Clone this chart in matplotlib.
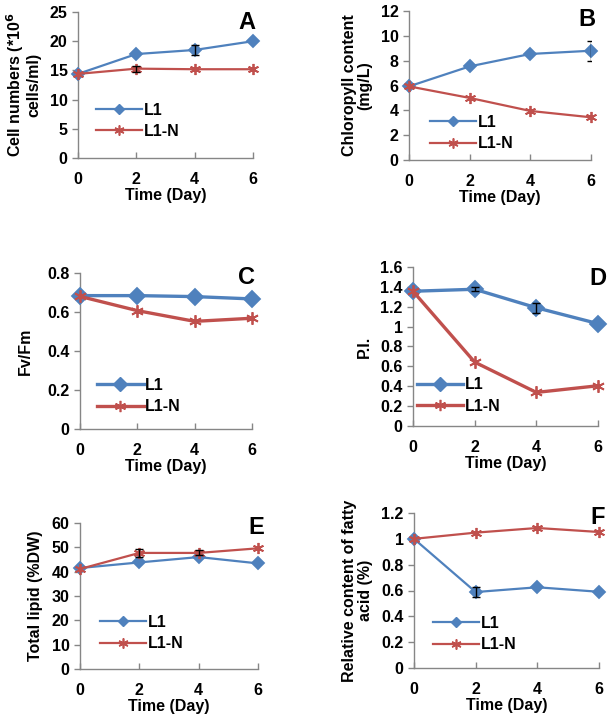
import numpy as np
import matplotlib
matplotlib.use('Agg')
import matplotlib.pyplot as plt
from matplotlib.lines import Line2D

plt.rcParams['font.family'] = ['Liberation Sans', 'DejaVu Sans']
plt.rcParams['font.weight'] = 'bold'

BLUE = '#4F81BD'
RED = '#C0504D'
AXIS_GRAY = '#868686'

days = [0, 2, 4, 6]

# panel data: L1, L1-N, error bars (0 = too small to see)
a_l1 = [14.4, 17.8, 18.5, 20.0]
a_l1_err = [0, 0, 0.9, 0]
a_l1n = [14.4, 15.3, 15.2, 15.2]
a_l1n_err = [0, 0.5, 0, 0]

b_l1 = [5.93, 7.54, 8.54, 8.8]
b_l1_err = [0, 0, 0, 0.8]
b_l1n = [5.93, 5.0, 3.95, 3.44]
b_l1n_err = [0, 0, 0, 0]

c_l1 = [0.684, 0.684, 0.679, 0.667]
c_l1_err = [0, 0, 0, 0]
c_l1n = [0.68, 0.607, 0.552, 0.568]
c_l1n_err = [0, 0, 0, 0]

d_l1 = [1.356, 1.376, 1.19, 1.03]
d_l1_err = [0, 0.02, 0.05, 0]
d_l1n = [1.356, 0.643, 0.338, 0.405]
d_l1n_err = [0, 0, 0, 0]

e_l1 = [41.5, 43.8, 46.0, 43.4]
e_l1_err = [0, 0, 0, 0]
e_l1n = [41.1, 47.7, 47.7, 49.6]
e_l1n_err = [0, 1.5, 1.0, 0]

f_l1 = [1.0, 0.588, 0.625, 0.59]
f_l1_err = [0, 0.04, 0, 0]
f_l1n = [1.0, 1.048, 1.084, 1.053]
f_l1n_err = [0, 0, 0, 0]

W, H = 613, 721
fig = plt.figure(figsize=(W / 100, H / 100), dpi=100)
fig.patch.set_facecolor('white')

STAR = (6, 2, 0)


def px_axes(x0, y0, x1, y1):
    return fig.add_axes([x0 / W, 1 - y1 / H, (x1 - x0) / W, (y1 - y0) / H])


def panel(box, l1, l1e, l1n, l1ne, ylim, yticks, yticklabels, ylabel, letter,
          letter_pos, leg_pos, thick=False, labelpad=6):
    ax = px_axes(*box)
    lw = 2.4 if thick else 1.6
    ms_d = 8.5 if thick else 6.5
    ms_s = 9 if thick else 8
    for vals, errs, col, mk, ms in [(l1, l1e, BLUE, 'D', ms_d),
                                    (l1n, l1ne, RED, STAR, ms_s)]:
        ax.plot(days, vals, color=col, lw=lw, marker=mk, ms=ms, mec=col,
                mew=1.3, zorder=3, clip_on=False)
        x = np.array(days)
        y = np.array(vals)
        e = np.array(errs)
        m = e > 0
        if m.any():
            ax.errorbar(x[m], y[m], yerr=e[m], fmt='none', ecolor='black',
                        elinewidth=1, capsize=3, capthick=1, zorder=4)
    handles = [Line2D([], [], color=BLUE, lw=lw, marker='D', ms=ms_d * 0.85,
                      mec=BLUE),
               Line2D([], [], color=RED, lw=lw, marker=STAR, ms=ms_s * 0.9,
                      mec=RED, mew=1.2)]
    ax.set_xlim(0, 6)
    ax.set_ylim(*ylim)
    ax.set_xticks(days)
    ax.set_yticks(yticks)
    ax.set_yticklabels(yticklabels)
    for s in ['top', 'right']:
        ax.spines[s].set_visible(False)
    for s in ['left', 'bottom']:
        ax.spines[s].set_color(AXIS_GRAY)
        ax.spines[s].set_linewidth(1)
    ax.tick_params(axis='both', colors=AXIS_GRAY, labelcolor='black',
                   labelsize=11.5, length=4, width=1, direction='out')
    ax.tick_params(axis='x', direction='in', pad=10)
    for lbl in ax.get_xticklabels() + ax.get_yticklabels():
        lbl.set_fontweight('bold')
    ax.set_xlabel('Time (Day)', fontsize=11.5, fontweight='bold', labelpad=1)
    ax.set_ylabel(ylabel, fontsize=11.5, fontweight='bold', labelpad=labelpad,
                  linespacing=1.05)
    ax.text(letter_pos[0], letter_pos[1], letter, transform=ax.transAxes,
            fontsize=17, fontweight='bold', ha='center', va='center')
    ax.legend(handles, ['L1', 'L1-N'], loc='center left',
              bbox_to_anchor=leg_pos, frameon=False, handlelength=2.9,
              handletextpad=0.1, borderpad=0, borderaxespad=0,
              labelspacing=0.4, prop={'weight': 'bold', 'size': 11.5})
    return ax


panel((78, 12, 253, 158), a_l1, a_l1_err, a_l1n, a_l1n_err,
      (0, 25), [0, 5, 10, 15, 20, 25], ['0', '5', '10', '15', '20', '25'],
      'Cell numbers (*10$^\\mathbf{6}$\ncells/ml)', 'A', (0.966, 0.93),
      (0.1, 0.255))

panel((409, 11, 591, 160), b_l1, b_l1_err, b_l1n, b_l1n_err,
      (0, 12), [0, 2, 4, 6, 8, 10, 12], ['0', '2', '4', '6', '8', '10', '12'],
      'Chloropyll content\n(mg/L)', 'B', (0.98, 0.94), (0.115, 0.18))

panel((80, 273, 252, 429), c_l1, c_l1_err, c_l1n, c_l1n_err,
      (0, 0.8), [0, 0.2, 0.4, 0.6, 0.8], ['0', '0.2', '0.4', '0.6', '0.8'],
      'Fv/Fm', 'C', (0.97, 0.97), (0.1, 0.21), thick=True, labelpad=10)

panel((413, 267, 598, 426), d_l1, d_l1_err, d_l1n, d_l1n_err,
      (0, 1.6), [0, 0.2, 0.4, 0.6, 0.8, 1, 1.2, 1.4, 1.6],
      ['0', '0.2', '0.4', '0.6', '0.8', '1', '1.2', '1.4', '1.6'],
      'P.I.', 'D', (1.0, 0.93), (0.02, 0.193), thick=True, labelpad=6)

panel((80, 523, 258, 669), e_l1, e_l1_err, e_l1n, e_l1n_err,
      (0, 60), [0, 10, 20, 30, 40, 50, 60],
      ['0', '10', '20', '30', '40', '50', '60'],
      'Total lipid (%DW)', 'E', (0.99, 0.97), (0.11, 0.245))

panel((414, 513, 599, 668), f_l1, f_l1_err, f_l1n, f_l1n_err,
      (0, 1.2), [0, 0.2, 0.4, 0.6, 0.8, 1, 1.2],
      ['0', '0.2', '0.4', '0.6', '0.8', '1', '1.2'],
      'Relative content of fatty\nacid (%)', 'F', (0.99, 0.97), (0.1, 0.22))

fig.savefig('out.png', dpi=100, facecolor='white')
